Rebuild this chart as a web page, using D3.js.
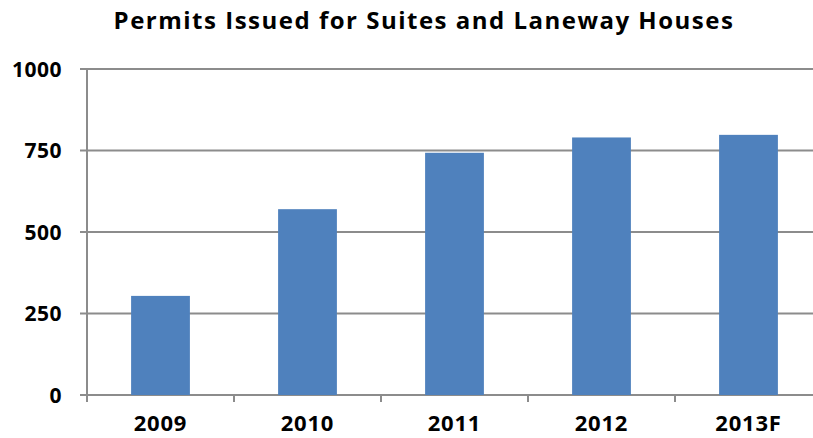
<!DOCTYPE html>
<html>
<head>
<meta charset="utf-8">
<script src="https://cdn.jsdelivr.net/npm/d3@7"></script>
<style>
  body { margin: 0; background: #fff; }
  svg { display: block; }
  text { font-family: "Open Sans", "DejaVu Sans", sans-serif; font-weight: bold; fill: #000; }
</style>
</head>
<body>
<svg id="chart" width="813" height="438"></svg>
<script>
const categories = ["2009", "2010", "2011", "2012", "2013F"];
const permits = [304, 570, 743, 790, 798];
const yTicks = [0, 250, 500, 750, 1000];
const title = "Permits Issued for Suites and Laneway Houses";

const svg = d3.select("#chart");
const margin = { left: 87, right: -9, top: 69, bottom: 43 };
const width = 813 - margin.left - margin.right;
const height = 438 - margin.top - margin.bottom;

const x = d3.scaleBand().domain(categories).range([0, width])
  .paddingInner(0.6).paddingOuter(0.3);
const y = d3.scaleLinear().domain([0, 1000]).range([height, 0]);

const g = svg.append("g").attr("transform", `translate(${margin.left},${margin.top})`);

// horizontal gridlines with outward ticks on the left
g.append("g").selectAll("line").data(yTicks).join("line")
  .attr("x1", -7).attr("x2", width)
  .attr("y1", d => y(d)).attr("y2", d => y(d))
  .attr("stroke", "#8c8c8c").attr("stroke-width", 2);

// y tick labels
g.append("g").selectAll("text").data(yTicks).join("text")
  .attr("x", -25).attr("y", d => y(d)).attr("dy", "0.36em")
  .attr("text-anchor", "end").attr("font-size", 21)
  .attr("letter-spacing", 0.5)
  .text(d => d);

// bars
g.append("g").selectAll("rect").data(permits).join("rect")
  .attr("x", (d, i) => x(categories[i]))
  .attr("width", x.bandwidth())
  .attr("y", d => y(d))
  .attr("height", d => y(0) - y(d))
  .attr("fill", "#4f81bd");

// vertical axis line
g.append("line").attr("x1", 0).attr("x2", 0)
  .attr("y1", 0).attr("y2", height + 7)
  .attr("stroke", "#8c8c8c").attr("stroke-width", 2);

// category boundary ticks below the baseline
const step = x.step();
g.append("g").selectAll("line").data(d3.range(1, categories.length + 1)).join("line")
  .attr("x1", i => i * step).attr("x2", i => i * step)
  .attr("y1", height).attr("y2", height + 7)
  .attr("stroke", "#8c8c8c").attr("stroke-width", 2);

// category labels
g.append("g").selectAll("text").data(categories).join("text")
  .attr("x", d => x(d) + x.bandwidth() / 2)
  .attr("y", height + 36)
  .attr("text-anchor", "middle").attr("font-size", 22)
  .attr("letter-spacing", 0.8)
  .text(d => d);

// title
svg.append("text")
  .attr("x", 424).attr("y", 29)
  .attr("text-anchor", "middle").attr("font-size", 24)
  .attr("letter-spacing", 1.5)
  .text(title);
</script>
</body>
</html>
